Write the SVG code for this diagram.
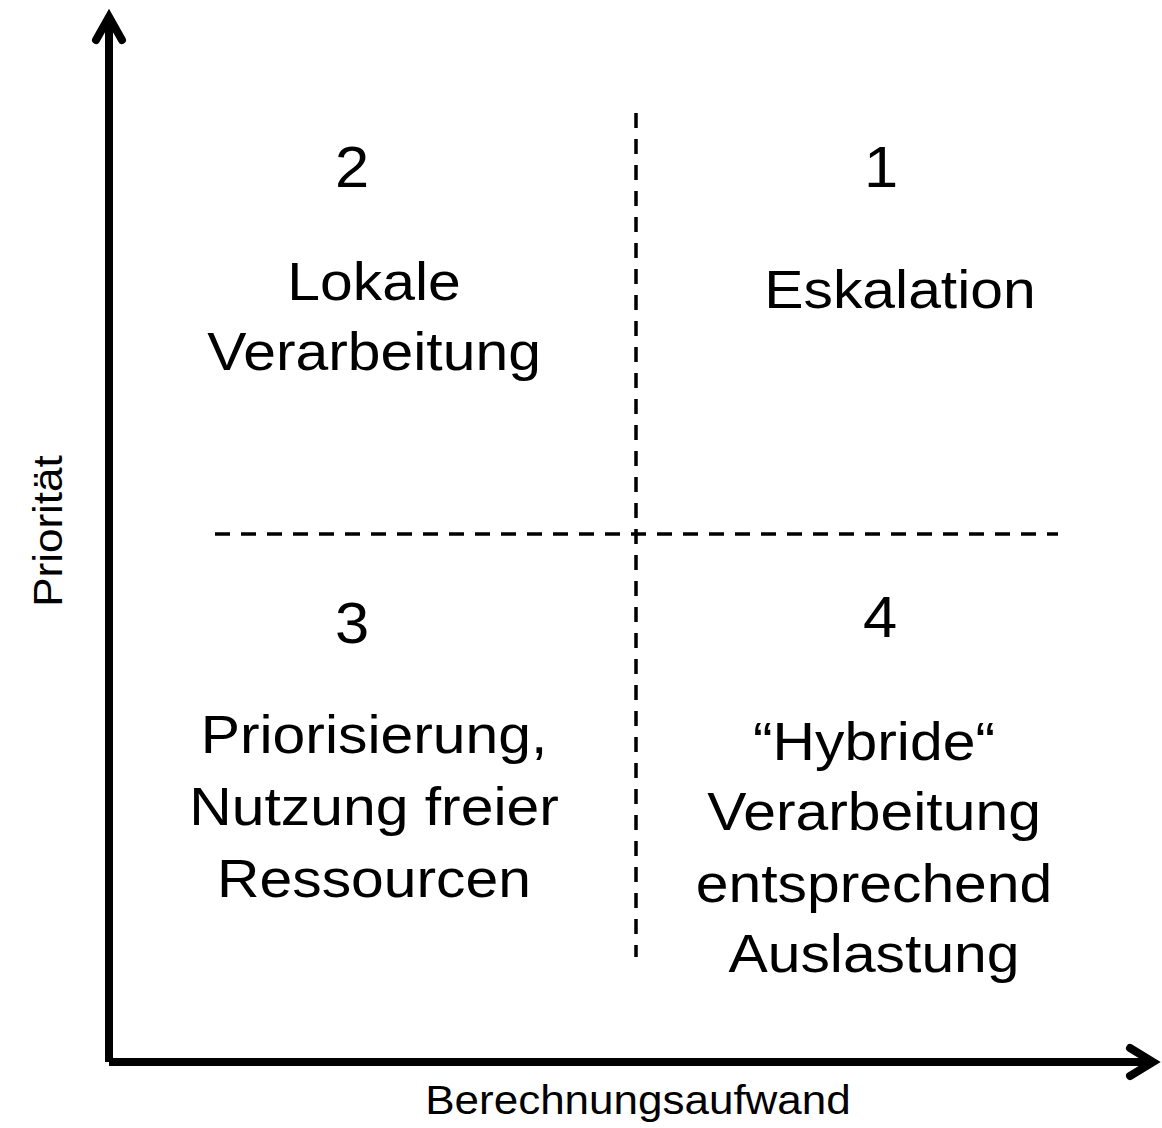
<svg xmlns="http://www.w3.org/2000/svg" width="1162" height="1128" viewBox="0 0 1162 1128">
<style>
.t{font-family:"Liberation Sans",Arial,sans-serif;font-size:54px;fill:#000;text-anchor:middle}
.n{font-family:"Liberation Sans",Arial,sans-serif;font-size:58px;fill:#000;text-anchor:middle}
.ax{font-family:"Liberation Sans",Arial,sans-serif;font-size:40px;fill:#000;text-anchor:middle}
.axis{stroke:#000;stroke-width:8;fill:none}
.head{stroke:#000;stroke-width:8;fill:none;stroke-linecap:round;stroke-linejoin:miter;stroke-miterlimit:10}
.dash{stroke:#000;stroke-width:3.5;fill:none;stroke-dasharray:15 11}
</style>
<rect width="1162" height="1128" fill="#fff"/>
<g id="connectors">
  <line class="axis" x1="109" y1="1062" x2="109" y2="17"/>
  <line class="axis" x1="109" y1="1062" x2="1153" y2="1062"/>
  <path class="head" d="M96,40 L109,17 L122,40"/>
  <path class="head" d="M1130,1048 L1153,1062 L1130,1076"/>
  <line class="dash" x1="215" y1="534" x2="1058" y2="534"/>
  <line class="dash" x1="636" y1="113" x2="636" y2="957"/>
</g>
<g id="axis-y-label">
  <text class="ax" transform="translate(62,531) rotate(-90) scale(1.1,1)">Priorität</text>
</g>
<g id="axis-x-label">
  <text class="ax" transform="translate(638,1114) scale(1.1,1)">Berechnungsaufwand</text>
</g>
<g id="q2">
  <text class="n" transform="translate(352,187) scale(1.06,1)">2</text>
  <text class="t" transform="translate(374,0) scale(1.09,1)"><tspan x="0" y="300">Lokale</tspan><tspan x="0" y="370">Verarbeitung</tspan></text>
</g>
<g id="q1">
  <text class="n" transform="translate(881,187) scale(1.06,1)">1</text>
  <text class="t" transform="translate(900,308) scale(1.09,1)">Eskalation</text>
</g>
<g id="q3">
  <text class="n" transform="translate(352,643) scale(1.06,1)">3</text>
  <text class="t" transform="translate(374,0) scale(1.09,1)"><tspan x="0" y="753">Priorisierung,</tspan><tspan x="0" y="825">Nutzung freier</tspan><tspan x="0" y="897">Ressourcen</tspan></text>
</g>
<g id="q4">
  <text class="n" transform="translate(880,637) scale(1.06,1)">4</text>
  <text class="t" transform="translate(874,0) scale(1.09,1)"><tspan x="0" y="760">“Hybride“</tspan><tspan x="0" y="830">Verarbeitung</tspan><tspan x="0" y="902">entsprechend</tspan><tspan x="0" y="972">Auslastung</tspan></text>
</g>
</svg>
